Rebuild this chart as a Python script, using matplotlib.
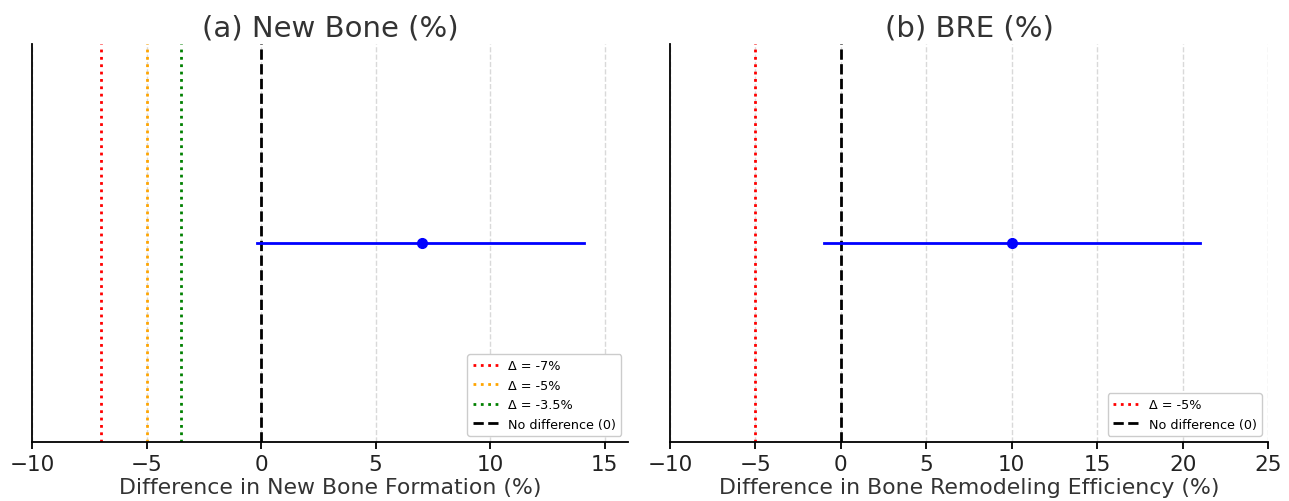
import matplotlib
matplotlib.use("Agg")
import matplotlib.pyplot as plt

# Data
panel_titles = ["(a) New Bone (%)", "(b) BRE (%)"]
xlabels = ["Difference in New Bone Formation (%)", "Difference in Bone Remodeling Efficiency (%)"]
estimates = [7.0, 10.0]
ci_low = [-0.2, -1.0]
ci_high = [14.1, 21.0]
margins_a = [-7, -5, -3.5]
margin_labels_a = ["Δ = -7%", "Δ = -5%", "Δ = -3.5%"]
margin_colors_a = ["red", "orange", "green"]
margins_b = [-5]
margin_labels_b = ["Δ = -5%"]
margin_colors_b = ["red"]
xlims = [(-10, 16), (-10, 25)]
xticks = [[-10, -5, 0, 5, 10, 15], [-10, -5, 0, 5, 10, 15, 20, 25]]

fig = plt.figure(figsize=(12.89, 5.02), dpi=100)
axes = [fig.add_axes([0.0248, 0.1175, 0.4622, 0.7925]),
        fig.add_axes([0.5198, 0.1175, 0.4639, 0.7925])]

margins = [margins_a, margins_b]
mlabels = [margin_labels_a, margin_labels_b]
mcolors = [margin_colors_a, margin_colors_b]

for i, ax in enumerate(axes):
    ax.set_xlim(*xlims[i])
    ax.set_ylim(-1, 1)
    ax.set_xticks(xticks[i])
    ax.grid(axis="x", linestyle="--", color="#d9d9d9", linewidth=1, zorder=0)
    ax.set_axisbelow(True)
    for m, lab, c in zip(margins[i], mlabels[i], mcolors[i]):
        ax.axvline(m, color=c, linestyle=":", linewidth=2, label=lab, zorder=2)
    ax.axvline(0, color="black", linestyle="--", linewidth=2, label="No difference (0)", zorder=2)
    ax.plot([ci_low[i], ci_high[i]], [0, 0], color="blue", linewidth=2, zorder=3)
    ax.plot([estimates[i]], [0], "o", color="blue", markersize=7, zorder=4)
    ax.set_yticks([])
    ax.spines["top"].set_visible(False)
    ax.spines["right"].set_visible(False)
    ax.spines["left"].set_linewidth(1.3)
    ax.spines["bottom"].set_linewidth(1.3)
    ax.tick_params(axis="x", labelsize=15.5, length=5, width=1.3, labelcolor="#222222")
    ax.set_title(panel_titles[i], fontsize=21, color="#333333")
    ax.set_xlabel(xlabels[i], fontsize=15.8, color="#333333", labelpad=2)
    ax.legend(loc="lower right", fontsize=9.2, framealpha=1, edgecolor="#cccccc")

fig.savefig("out.png", dpi=100)
